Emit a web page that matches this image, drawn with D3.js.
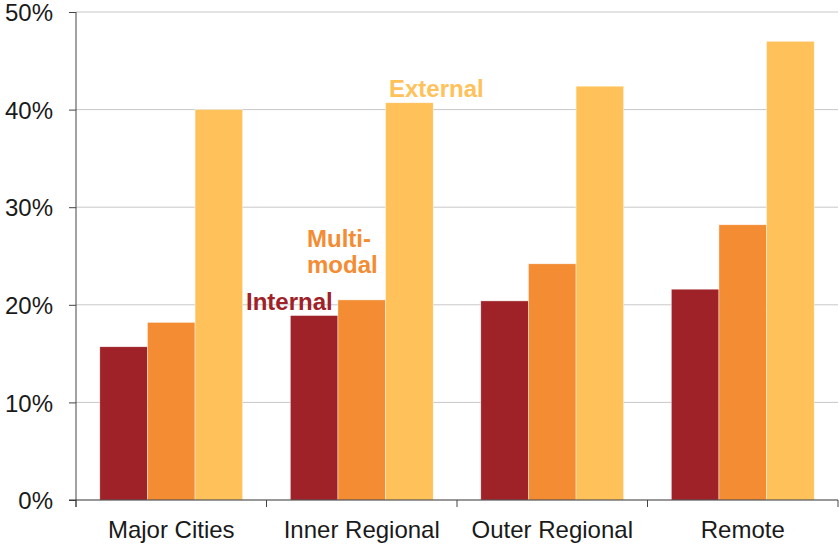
<!DOCTYPE html>
<html><head><meta charset="utf-8">
<script src="https://cdn.jsdelivr.net/npm/d3@7"></script>
<style>body{margin:0;background:#fff}svg{display:block;font-family:"Liberation Sans",Arial,sans-serif}</style>
</head><body>
<svg id="c" width="839" height="544"></svg>
<script>
const categories = ["Major Cities", "Inner Regional", "Outer Regional", "Remote"];
const series = ["Internal", "Multi-modal", "External"];
const internal = [15.7, 18.9, 20.4, 21.6];
const multimodal = [18.2, 20.5, 24.2, 28.2];
const external = [40.0, 40.7, 42.4, 47.0];
const yTicks = [0, 10, 20, 30, 40, 50];
const colors = ["#9E2227", "#F38C33", "#FFC25A"];

const values = [internal, multimodal, external];
const svg = d3.select("#c");
const L = 76, R = 838, T = 12, B = 500;
const x0 = d3.scaleBand().domain(categories).range([L, R]).paddingInner(0).paddingOuter(0);
const x1 = d3.scaleBand().domain(series).range([0, x0.bandwidth()]).paddingInner(0).paddingOuter(0.5);
const y = d3.scaleLinear().domain([0, 50]).range([B, T]);

// gridlines
svg.append("g").selectAll("line").data(yTicks.filter(d => d > 0)).join("line")
  .attr("x1", L).attr("x2", R).attr("y1", d => y(d)).attr("y2", d => y(d))
  .attr("stroke", "#c8c8c8").attr("stroke-width", 1);

// bars
const g = svg.append("g");
categories.forEach((c, i) => {
  series.forEach((s, j) => {
    const v = values[j][i];
    g.append("rect")
      .attr("x", x0(c) + x1(s)).attr("width", x1.bandwidth())
      .attr("y", y(v)).attr("height", B - y(v))
      .attr("fill", colors[j]).attr("stroke", "#fff").attr("stroke-width", 0.6).attr("stroke-opacity", 0.7);
  });
});

// y axis
const ya = svg.append("g").attr("transform", `translate(${L},0)`)
  .call(d3.axisLeft(y).tickValues(yTicks).tickFormat(d => d + "%").tickSize(7).tickPadding(16));
ya.select(".domain").attr("stroke", "#444").attr("d", `M0,${T}V${B + 7}`);
ya.selectAll(".tick line").attr("stroke", "#444");
ya.selectAll(".tick text").attr("font-size", 24).attr("fill", "#1a1a1a")
  .attr("font-family", "Liberation Sans, Arial, sans-serif").attr("dy", "0.36em");

// x axis
const xa = svg.append("g").attr("transform", `translate(0,${B})`);
xa.append("line").attr("x1", L - 7).attr("x2", R).attr("y1", 0).attr("y2", 0).attr("stroke", "#333").attr("stroke-width", 1.2);
const bounds = categories.map(c => x0(c)).concat([x0(categories[categories.length - 1]) + x0.bandwidth()]);
xa.selectAll(".tk").data(bounds).join("line").attr("class", "tk")
  .attr("x1", d => d).attr("x2", d => d).attr("y1", 0).attr("y2", 7).attr("stroke", "#444");
xa.selectAll(".lb").data(categories).join("text").attr("class", "lb")
  .attr("x", d => x0(d) + x0.bandwidth() / 2).attr("y", 38)
  .attr("text-anchor", "middle").attr("font-size", 24).attr("fill", "#1a1a1a")
  .text(d => d);

// series labels
const lab = svg.append("g").attr("font-weight", "bold").attr("font-size", 24);
lab.append("text").attr("x", 389).attr("y", 97).attr("fill", colors[2]).text("External");
lab.append("text").attr("x", 307).attr("y", 247).attr("fill", colors[1]).text("Multi-");
lab.append("text").attr("x", 307).attr("y", 273).attr("fill", colors[1]).text("modal");
lab.append("text").attr("x", 246).attr("y", 310).attr("fill", colors[0]).text("Internal");
</script>
</body></html>
